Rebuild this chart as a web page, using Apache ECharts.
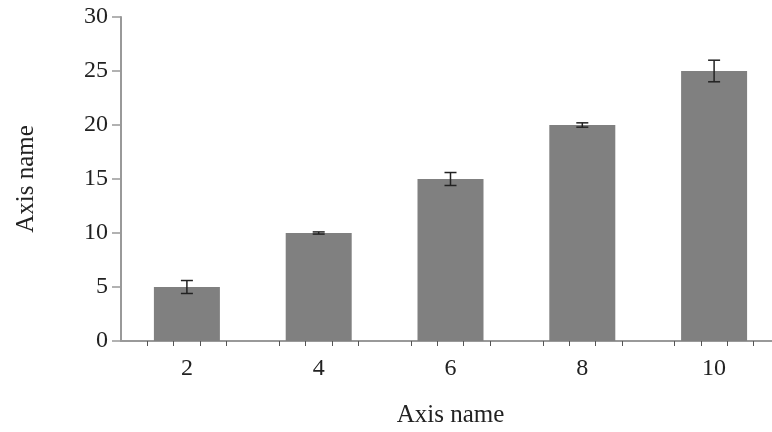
<!DOCTYPE html>
<html>
<head>
<meta charset="utf-8">
<script src="https://cdn.jsdelivr.net/npm/echarts@6/dist/echarts.min.js"></script>
<style>
html,body{margin:0;padding:0;background:#fff;}
#chart{width:772px;height:432px;}
</style>
</head>
<body>
<div id="chart"></div>
<script>
var categories = [2, 4, 6, 8, 10];
var values = [5, 10, 15, 20, 25];
var errors = [0.6, 0.1, 0.6, 0.2, 1.0];
var yTicks = [0, 5, 10, 15, 20, 25, 30];
var xName = 'Axis name';
var yName = 'Axis name';

var tickOffsets = [-0.6, -0.2, 0.2, 0.6];
var xTickValues = [];
categories.forEach(function (c) {
  tickOffsets.forEach(function (o) { xTickValues.push(c + o); });
});

var font = 'Liberation Serif';
var chart = echarts.init(document.getElementById('chart'));
chart.setOption({
  animation: false,
  grid: { left: 121, width: 659, top: 17, height: 324, outerBoundsMode: 'none', containLabel: false },
  xAxis: {
    type: 'value', min: 1, max: 11,
    name: xName, nameLocation: 'middle', nameGap: 62,
    nameTextStyle: { fontFamily: font, fontSize: 25, color: '#222' },
    axisLine: { show: true, onZero: false, lineStyle: { color: '#999', width: 2 } },
    axisTick: { show: true, customValues: xTickValues, length: 5, lineStyle: { color: '#555', width: 1 } },
    axisLabel: { customValues: categories, fontFamily: font, fontSize: 24, color: '#222', margin: 16 },
    splitLine: { show: false }
  },
  yAxis: {
    type: 'value', min: yTicks[0], max: yTicks[yTicks.length - 1], interval: 5,
    name: yName, nameLocation: 'middle', nameGap: 82,
    nameTextStyle: { fontFamily: font, fontSize: 25, color: '#222' },
    axisLine: { show: true, lineStyle: { color: '#999', width: 2 } },
    axisTick: { show: true, length: 9, lineStyle: { color: '#999', width: 1.5 } },
    axisLabel: { fontFamily: font, fontSize: 24, color: '#222', margin: 13 },
    splitLine: { show: false }
  },
  series: [
    {
      type: 'bar',
      data: categories.map(function (c, i) { return [c, values[i]]; }),
      barWidth: 66,
      itemStyle: { color: '#808080' },
      z: 2
    },
    {
      type: 'custom',
      data: categories.map(function (c, i) { return [c, values[i], errors[i]]; }),
      z: 3,
      renderItem: function (params, api) {
        var x = api.value(0), y = api.value(1), e = api.value(2);
        var top = api.coord([x, y + e]);
        var bot = api.coord([x, y - e]);
        var hw = 6;
        var style = { stroke: '#222', lineWidth: 1.5 };
        return {
          type: 'group',
          children: [
            { type: 'line', shape: { x1: top[0], y1: top[1], x2: bot[0], y2: bot[1] }, style: style },
            { type: 'line', shape: { x1: top[0] - hw, y1: top[1], x2: top[0] + hw, y2: top[1] }, style: style },
            { type: 'line', shape: { x1: bot[0] - hw, y1: bot[1], x2: bot[0] + hw, y2: bot[1] }, style: style }
          ]
        };
      }
    }
  ]
});
</script>
</body>
</html>
